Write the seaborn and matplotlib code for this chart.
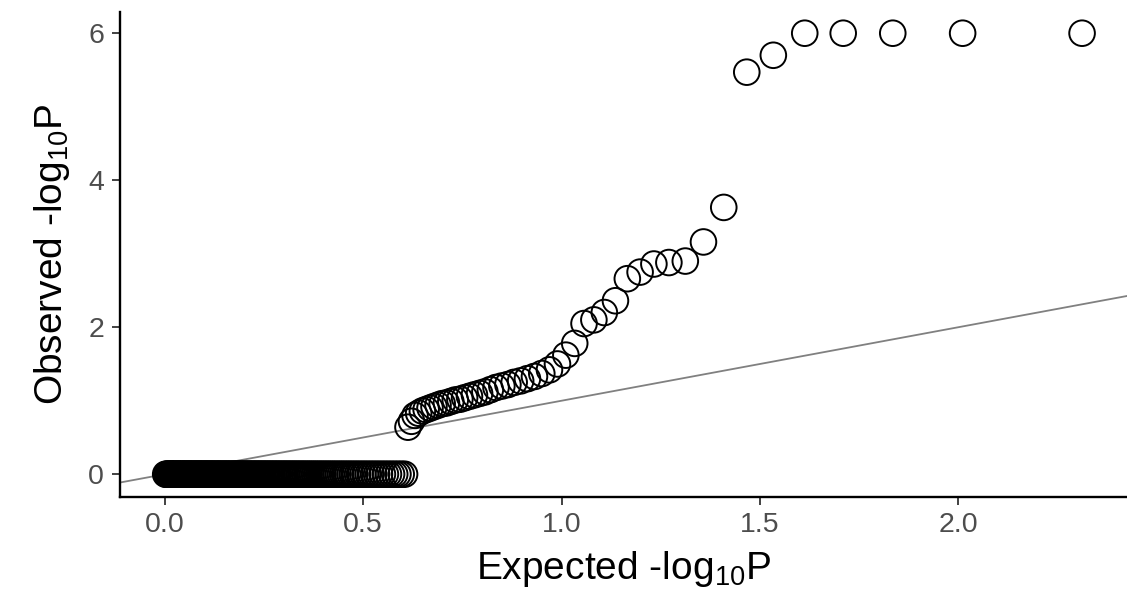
import numpy as np
import pandas as pd
import seaborn as sns
import matplotlib.pyplot as plt

# observed -log10 P for the tests with P < 1, largest first
observed_top = [6.0, 6.0, 6.0, 6.0, 6.0, 5.7, 5.47, 3.63, 3.16, 2.9,
                2.88, 2.86, 2.75, 2.66, 2.36, 2.2, 2.1, 2.05, 1.78, 1.62,
                1.5, 1.42, 1.37, 1.33, 1.3, 1.27, 1.25, 1.22, 1.2, 1.18,
                1.15, 1.12, 1.1, 1.08, 1.06, 1.04, 1.02, 1.01, 0.99, 0.97,
                0.96, 0.94, 0.92, 0.9, 0.88, 0.86, 0.83, 0.8, 0.72, 0.64]
# tests with P = 1 (observed -log10 P = 0)
n_null = 154

observed = np.array(observed_top + [0.0] * n_null)
n = len(observed)
# standard QQ expectation: uniform quantiles i/(n+1)
expected = -np.log10(np.arange(1, n + 1) / (n + 1))
df = pd.DataFrame({"expected": expected, "observed": observed})

sns.set_theme(style="ticks")
plt.rcParams["font.family"] = ["Liberation Sans", "DejaVu Sans"]
plt.rcParams["mathtext.fontset"] = "custom"
plt.rcParams["mathtext.rm"] = "Liberation Sans"
plt.rcParams["mathtext.it"] = "Liberation Sans"

fig = plt.figure(figsize=(11.27, 5.95), dpi=100)
ax = fig.add_axes([0.1065, 0.1647, 0.8935, 0.8153])

ax.axline((0, 0), slope=1, color="#808080", lw=1.3, zorder=1)
sns.scatterplot(data=df, x="expected", y="observed", ax=ax, s=340,
                facecolor="none", edgecolor="black", linewidth=1.4, zorder=2)

ax.set_xlim(-0.113, 2.425)
ax.set_ylim(-0.31, 6.29)
ax.set_xticks([0.0, 0.5, 1.0, 1.5, 2.0])
ax.set_xticklabels(["0.0", "0.5", "1.0", "1.5", "2.0"])
ax.set_yticks([0, 2, 4, 6])

for side in ["top", "right"]:
    ax.spines[side].set_visible(False)
for side in ["left", "bottom"]:
    ax.spines[side].set_color("black")
    ax.spines[side].set_linewidth(1.7)

ax.tick_params(axis="both", length=5.5, width=1.3, color="#333333",
               labelsize=20.5, labelcolor="#4d4d4d")
ax.tick_params(axis="x", pad=5)
ax.tick_params(axis="y", pad=6)
ax.set_xlabel("Expected -log$_{10}$P", fontsize=28, color="black", labelpad=8)
ax.set_ylabel("Observed -log$_{10}$P", fontsize=28, color="black", labelpad=12)

fig.savefig("out.png", dpi=100)
